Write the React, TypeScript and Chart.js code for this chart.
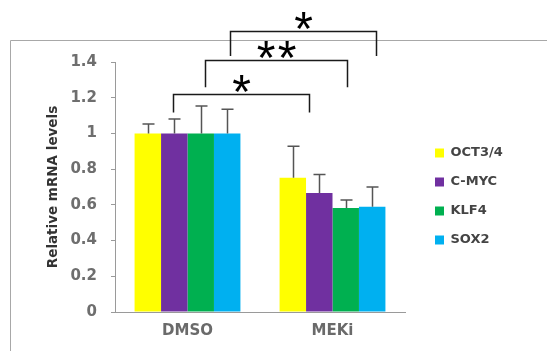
import React, { useEffect, useRef } from 'react';
import { Chart, registerables } from 'chart.js';

Chart.register(...registerables);

// ---- data ----
const categories = ['DMSO', 'MEKi'];
const seriesNames = ['OCT3/4', 'C-MYC', 'KLF4', 'SOX2'];
const oct34 = [1.0, 0.752];
const cmyc = [1.0, 0.666];
const klf4 = [1.0, 0.583];
const sox2 = [1.0, 0.59];
const oct34Err = [0.053, 0.176];
const cmycErr = [0.081, 0.104];
const klf4Err = [0.154, 0.044];
const sox2Err = [0.136, 0.11];
const yTickLabels = ['0', '0.2', '0.4', '0.6', '0.8', '1', '1.2', '1.4'];
const seriesColors = ['#FFFF00', '#7030A0', '#00B050', '#00B0F0'];

// significance brackets (category-index units for x, value units for y)
const sigFrom = [-0.1, 0.12, 0.29];
const sigTo = [0.84, 1.1, 1.3];
const sigLevel = [1.22, 1.412, 1.574];
const sigDrop = [1.117, 1.259, 1.434];
const sigLabel = ['*', '**', '*'];

const seriesValues = [oct34, cmyc, klf4, sox2];
const seriesErrors = [oct34Err, cmycErr, klf4Err, sox2Err];

const framePlugin = {
  id: 'frame',
  beforeDraw(chart: any) {
    const { ctx, width, height } = chart;
    ctx.save();
    ctx.strokeStyle = '#a8a8a8';
    ctx.lineWidth = 1;
    ctx.beginPath();
    ctx.moveTo(10.5, height);
    ctx.lineTo(10.5, 40.5);
    ctx.lineTo(width, 40.5);
    ctx.stroke();
    ctx.restore();
  },
};

const errorBarPlugin = {
  id: 'errorBars',
  afterDatasetsDraw(chart: any) {
    const { ctx } = chart;
    const y = chart.scales.y;
    ctx.save();
    ctx.strokeStyle = '#555555';
    ctx.lineWidth = 1.5;
    chart.data.datasets.forEach((ds: any, i: number) => {
      const meta = chart.getDatasetMeta(i);
      meta.data.forEach((bar: any, j: number) => {
        const v = ds.data[j];
        const e = seriesErrors[i][j];
        const yTop = y.getPixelForValue(v + e);
        const x = Math.round(bar.x) + 0.5;
        ctx.beginPath();
        ctx.moveTo(x, bar.y);
        ctx.lineTo(x, yTop);
        ctx.moveTo(x - 6, yTop);
        ctx.lineTo(x + 6, yTop);
        ctx.stroke();
      });
    });
    ctx.restore();
  },
};

const sigPlugin = {
  id: 'sigBrackets',
  afterDraw(chart: any) {
    const { ctx } = chart;
    const x = chart.scales.x;
    const y = chart.scales.y;
    ctx.save();
    sigLabel.forEach((lab, k) => {
      const x1 = Math.round(x.getPixelForValue(sigFrom[k])) + 0.5;
      const x2 = Math.round(x.getPixelForValue(sigTo[k])) + 0.5;
      const yl = Math.round(y.getPixelForValue(sigLevel[k])) + 0.5;
      const yd = y.getPixelForValue(sigDrop[k]);
      ctx.strokeStyle = '#1a1a1a';
      ctx.lineWidth = 1.5;
      ctx.beginPath();
      ctx.moveTo(x1, yd);
      ctx.lineTo(x1, yl);
      ctx.lineTo(x2, yl);
      ctx.lineTo(x2, yd);
      ctx.stroke();
      ctx.font = '48px "Liberation Sans"';
      ctx.fillStyle = '#000000';
      ctx.textAlign = 'center';
      ctx.textBaseline = 'alphabetic';
      const stars = lab.split('');
      const cx = (x1 + x2) / 2;
      const cy = yl - 11;
      stars.forEach((s, n) => {
        const m = ctx.measureText(s);
        const sx = cx + (n - (stars.length - 1) / 2) * 21;
        ctx.fillText(s, sx, cy + (m.actualBoundingBoxAscent - m.actualBoundingBoxDescent) / 2);
      });
    });
    ctx.restore();
  },
};

export default function App() {
  const ref = useRef<HTMLCanvasElement | null>(null);
  useEffect(() => {
    if (!ref.current) return;
    const chart = new Chart(ref.current, {
      type: 'bar',
      data: {
        labels: categories,
        datasets: seriesNames.map((name, i) => ({
          label: name,
          data: seriesValues[i],
          backgroundColor: seriesColors[i],
          borderWidth: 0,
          categoryPercentage: 0.73,
          barPercentage: 1.0,
        })),
      },
      options: {
        responsive: false,
        animation: false,
        layout: { padding: { top: 62, left: 0, right: 43, bottom: 0 } },
        plugins: {
          legend: {
            position: 'right',
            fullSize: false,
            maxWidth: 85,
            title: { display: true, text: '', font: { size: 10 }, padding: { top: 7, bottom: 0 } },
            labels: {
              boxWidth: 9,
              boxHeight: 9,
              padding: 16,
              color: '#444444',
              font: { family: '"DejaVu Sans"', size: 13, weight: 'bold' },
            },
          },
          tooltip: { enabled: false },
        },
        scales: {
          x: {
            type: 'category',
            offset: true,
            grid: { display: false, drawTicks: false },
            border: { display: true, color: '#9a9a9a', width: 1 },
            ticks: {
              padding: 10,
              color: '#6a6a6a',
              font: { family: '"DejaVu Sans"', size: 15, weight: 'bold' },
            },
            afterFit: (s: any) => {
              s.height = 39;
            },
          },
          y: {
            type: 'linear',
            min: 0,
            max: 1.4,
            grid: { drawOnChartArea: false, tickLength: 4, color: '#9a9a9a' },
            border: { display: true, color: '#9a9a9a', width: 1 },
            ticks: {
              stepSize: 0.2,
              padding: 14,
              color: '#6e6e6e',
              font: { family: '"DejaVu Sans"', size: 15, weight: 'bold' },
              callback: (_v: any, i: number) => yTickLabels[i],
            },
            title: {
              display: true,
              text: 'Relative mRNA levels',
              color: '#333333',
              font: { family: '"DejaVu Sans"', size: 13.5, weight: 'bold' },
              padding: { top: 45, bottom: 0 },
            },
            afterFit: (s: any) => {
              s.width = 115;
            },
          },
          yPad: {
            type: 'linear',
            position: 'right',
            display: true,
            grid: { display: false, drawTicks: false },
            border: { display: false },
            ticks: { display: false },
            afterFit: (s: any) => {
              s.width = 14;
            },
          },
        },
      } as any,
      plugins: [framePlugin, errorBarPlugin, sigPlugin],
    });
    return () => chart.destroy();
  }, []);
  return (
    <div style={{ position: 'absolute', left: 0, top: 0, width: 547, height: 351 }}>
      <canvas ref={ref} width={547} height={351} style={{ display: 'block' }} />
    </div>
  );
}
